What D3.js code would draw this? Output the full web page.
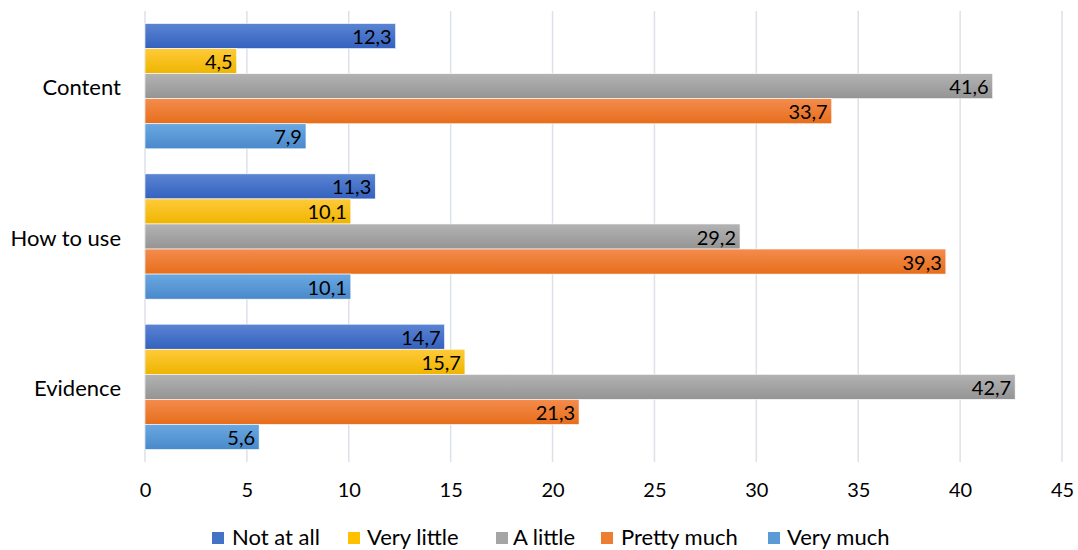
<!DOCTYPE html>
<html>
<head>
<meta charset="utf-8">
<script src="https://cdn.jsdelivr.net/npm/d3@7"></script>
<style>
html,body{margin:0;padding:0;background:#fff;}
svg{display:block;}
text{font-family:Lato,"Open Sans",sans-serif;fill:#000;}
</style>
</head>
<body>
<svg id="chart" width="1078" height="550"></svg>
<script>
const categories = ["Content", "How to use", "Evidence"];
const seriesNames = ["Not at all", "Very little", "A little", "Pretty much", "Very much"];
const notAtAll   = [12.3, 11.3, 14.7];
const veryLittle = [4.5, 10.1, 15.7];
const aLittle    = [41.6, 29.2, 42.7];
const prettyMuch = [33.7, 39.3, 21.3];
const veryMuch   = [7.9, 10.1, 5.6];
const xTicks = [0, 5, 10, 15, 20, 25, 30, 35, 40, 45];
const seriesValues = [notAtAll, veryLittle, aLittle, prettyMuch, veryMuch];
const colors = [
  ["#5b84d3", "#3361be"],
  ["#ffca3a", "#eeb500"],
  ["#b3b3b3", "#949494"],
  ["#f48c4d", "#e66e1b"],
  ["#6aa8e2", "#4a89ca"]
];
const legendColors = ["#4472c4", "#ffc000", "#a5a5a5", "#ed7d31", "#5b9bd5"];

const svg = d3.select("#chart");
const mLeft = 145, mRight = 1062, mTop = 11, mBottom = 462;

const x = d3.scaleLinear().domain([0, 45]).range([mLeft, mRight]);
const y0 = d3.scaleBand().domain(categories).range([mTop, mBottom]).paddingInner(1/6).paddingOuter(1/12);
const y1 = d3.scaleBand().domain(seriesNames).range([0, y0.bandwidth()]);

const defs = svg.append("defs");
colors.forEach((c, i) => {
  const g = defs.append("linearGradient").attr("id", "g" + i)
    .attr("x1", 0).attr("y1", 0).attr("x2", 0).attr("y2", 1);
  g.append("stop").attr("offset", "0%").attr("stop-color", c[0]);
  g.append("stop").attr("offset", "100%").attr("stop-color", c[1]);
});

// gridlines
svg.append("g").selectAll("line").data(xTicks).join("line")
  .attr("x1", d => x(d)).attr("x2", d => x(d))
  .attr("y1", mTop).attr("y2", mBottom)
  .attr("stroke", "#dde1e8").attr("stroke-width", 1.5);

// x axis labels
const xAxis = d3.axisBottom(x).tickValues(xTicks).tickSize(0).tickPadding(0).tickFormat(d3.format("d"));
const xg = svg.append("g").attr("transform", `translate(0,${mBottom + 21})`).call(xAxis);
xg.select(".domain").remove();
xg.selectAll("text").attr("font-size", 20).attr("font-family", "Lato").attr("fill", "#000");

// y axis labels
const yAxis = d3.axisLeft(y0).tickSize(0).tickPadding(0);
const yg = svg.append("g").attr("transform", `translate(${mLeft - 24},2)`).call(yAxis);
yg.select(".domain").remove();
yg.selectAll("text").attr("font-size", 22).attr("font-family", "Lato").attr("fill", "#000");

// bars
const fmt = v => String(v.toFixed(1)).replace(".", ",");
seriesNames.forEach((s, si) => {
  const g = svg.append("g");
  g.selectAll("rect").data(categories).join("rect")
    .attr("x", x(0))
    .attr("y", c => y0(c) + y1(s))
    .attr("width", (c, ci) => x(seriesValues[si][ci]) - x(0))
    .attr("height", y1.bandwidth())
    .attr("fill", `url(#g${si})`)
    .attr("stroke", "#ffffff").attr("stroke-width", 0.6);
  g.selectAll("text").data(categories).join("text")
    .attr("x", (c, ci) => x(seriesValues[si][ci]) - 4)
    .attr("y", c => y0(c) + y1(s) + y1.bandwidth() / 2 + 1)
    .attr("dy", "0.35em")
    .attr("text-anchor", "end")
    .attr("font-size", 20)
    .text((c, ci) => fmt(seriesValues[si][ci]));
});

// legend
const legendSq = [212, 348, 496, 601, 768];
const legendTx = [232, 367, 513, 621, 787];
const lg = svg.append("g");
seriesNames.forEach((s, i) => {
  lg.append("rect").attr("x", legendSq[i]).attr("y", 532).attr("width", 12).attr("height", 12)
    .attr("fill", legendColors[i]);
  lg.append("text").attr("x", legendTx[i]).attr("y", 545)
    .attr("font-size", 22).text(s);
});
</script>
</body>
</html>
